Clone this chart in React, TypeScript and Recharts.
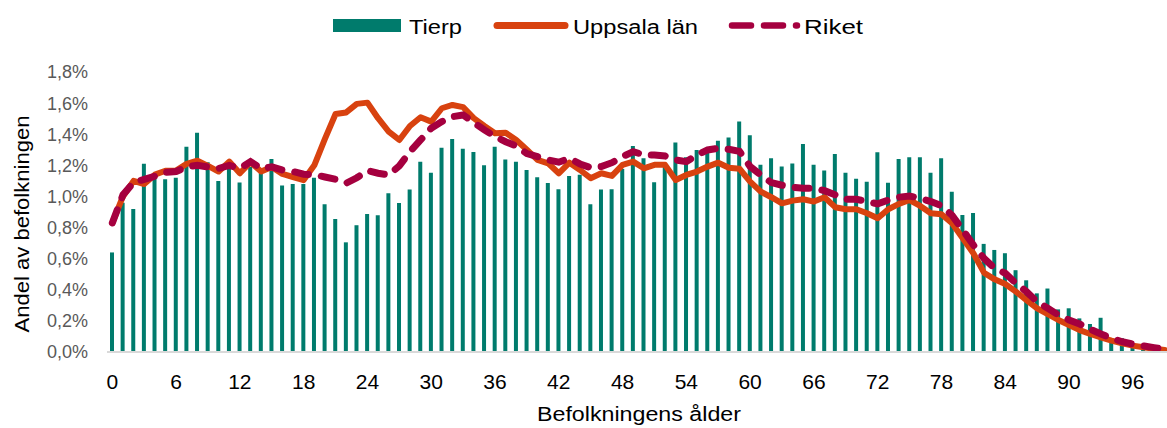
import React from 'react';
import { ComposedChart, Bar, Line, XAxis, YAxis, Legend, Label } from 'recharts';

const ages: number[] = Array.from({ length: 100 }, (_, i) => i);

const tierp: number[] = [
  0.64, 0.96, 0.92, 1.21, 1.13, 1.11, 1.12, 1.32, 1.41, 1.22,
  1.10, 1.19, 1.09, 1.19, 1.17, 1.24, 1.07, 1.08, 1.08, 1.12,
  0.95, 0.855, 0.705, 0.815, 0.887, 0.879, 1.02, 0.958, 1.045, 1.223,
  1.152, 1.313, 1.369, 1.306, 1.285, 1.20, 1.32, 1.238, 1.223, 1.17,
  1.123, 1.086, 1.047, 1.132, 1.14, 0.95, 1.045, 1.047, 1.177, 1.325,
  1.245, 1.091, 1.20, 1.346, 1.252, 1.299, 1.305, 1.358, 1.379, 1.482,
  1.394, 1.203, 1.245, 1.193, 1.212, 1.337, 1.203, 1.167, 1.273, 1.152,
  1.113, 1.095, 1.284, 1.088, 1.241, 1.252, 1.252, 1.152, 1.245, 1.03,
  0.88, 0.893, 0.695, 0.656, 0.635, 0.526, 0.461, 0.377, 0.408, 0.274,
  0.281, 0.216, 0.18, 0.22, 0.088, 0.089, 0.055, 0.032, 0.02, 0.01,
];

const uppsala: number[] = [
  0.83, 1.00, 1.10, 1.08, 1.14, 1.165, 1.166, 1.21, 1.23, 1.196,
  1.16, 1.224, 1.149, 1.22, 1.16, 1.19, 1.145, 1.125, 1.105, 1.20,
  1.37, 1.53, 1.54, 1.595, 1.603, 1.503, 1.417, 1.363, 1.453, 1.509,
  1.481, 1.567, 1.588, 1.574, 1.503, 1.453, 1.406, 1.41, 1.363, 1.30,
  1.235, 1.213, 1.149, 1.217, 1.17, 1.117, 1.149, 1.132, 1.203, 1.224,
  1.181, 1.203, 1.203, 1.106, 1.138, 1.16, 1.192, 1.217, 1.185, 1.178,
  1.095, 1.031, 0.995, 0.956, 0.973, 0.982, 0.967, 0.995, 0.931, 0.918,
  0.918, 0.892, 0.86, 0.918, 0.952, 0.977, 0.939, 0.892, 0.886, 0.828,
  0.731, 0.635, 0.51, 0.467, 0.437, 0.388, 0.334, 0.281, 0.244, 0.206,
  0.174, 0.141, 0.116, 0.094, 0.073, 0.056, 0.041, 0.03, 0.021, 0.013,
];

const riket: number[] = [
  0.83, 1.01, 1.09, 1.11, 1.13, 1.155, 1.16, 1.19, 1.20, 1.19,
  1.18, 1.20, 1.18, 1.224, 1.18, 1.19, 1.17, 1.16, 1.143, 1.14,
  1.125, 1.11, 1.085, 1.12, 1.166, 1.149, 1.138, 1.196, 1.288, 1.363,
  1.439, 1.481, 1.513, 1.524, 1.475, 1.428, 1.385, 1.352, 1.325, 1.275,
  1.256, 1.235, 1.22, 1.245, 1.209, 1.185, 1.192, 1.217, 1.256, 1.288,
  1.267, 1.267, 1.26, 1.235, 1.224, 1.267, 1.299, 1.31, 1.303, 1.29,
  1.192, 1.138, 1.089, 1.072, 1.059, 1.053, 1.053, 1.037, 1.01, 0.982,
  0.982, 0.967, 0.952, 0.977, 0.995, 1.003, 0.988, 0.967, 0.94, 0.878,
  0.785, 0.688, 0.602, 0.538, 0.506, 0.442, 0.388, 0.323, 0.281, 0.238,
  0.206, 0.18, 0.146, 0.116, 0.088, 0.066, 0.051, 0.039, 0.028, 0.017,
];

const yTicks: number[] = [0, 0.2, 0.4, 0.6, 0.8, 1.0, 1.2, 1.4, 1.6, 1.8];
const seriesNames = ['Tierp', 'Uppsala län', 'Riket'];

const data = ages.map((a, i) => ({
  age: a,
  tierp: tierp[i],
  uppsala: uppsala[i],
  riket: riket[i],
}));

const TEAL = '#007B6C';
const ORANGE = '#D8420F';
const MAROON = '#A5003F';
const FONT = '"Liberation Sans", Arial, sans-serif';

const fmt = (v: number) => v.toFixed(1).replace('.', ',') + '%';

const LegendContent = () => (
  <svg width={540} height={36} style={{ display: 'block' }}>
    <rect x={0} y={14} width={68} height={13} fill={TEAL} />
    <text x={76} y={28.7} fontSize={20} fontFamily={FONT} fill="#000" textLength={53} lengthAdjust="spacingAndGlyphs">{seriesNames[0]}</text>
    <line x1={164} y1={20.5} x2={232} y2={20.5} stroke={ORANGE} strokeWidth={7} strokeLinecap="round" />
    <text x={240} y={28.7} fontSize={20} fontFamily={FONT} fill="#000" textLength={125} lengthAdjust="spacingAndGlyphs">{seriesNames[1]}</text>
    <line x1={399} y1={20.5} x2={464} y2={20.5} stroke={MAROON} strokeWidth={6.5} strokeLinecap="round" strokeDasharray="19 13" />
    <text x={471} y={28.7} fontSize={20} fontFamily={FONT} fill="#000" textLength={59} lengthAdjust="spacingAndGlyphs">{seriesNames[2]}</text>
  </svg>
);

export default function App() {
  return (
    <div style={{ position: 'fixed', left: 0, top: 0, width: 1167, height: 428, overflow: 'hidden', background: '#fff' }}>
      <ComposedChart
        width={1185}
        height={428}
        data={data}
        margin={{ top: 36, right: 15, bottom: 0, left: 0 }}
        barCategoryGap={0}
      >
        <XAxis
          dataKey="age"
          interval={5}
          tickSize={0}
          tickMargin={22}
          height={76}
          axisLine={{ stroke: '#d9d9d9', strokeWidth: 2 }}
          tickLine={false}
          tick={{ fontSize: 21, fill: '#000', fontFamily: FONT }}
        >
          <Label
            content={() => (
              <text x={639} y={421} textAnchor="middle" fontSize={20} fontFamily={FONT} fill="#000" textLength={204} lengthAdjust="spacingAndGlyphs">
                Befolkningens ålder
              </text>
            )}
          />
        </XAxis>
        <YAxis
          width={107}
          domain={[0, 1.8]}
          ticks={yTicks}
          tickFormatter={fmt}
          axisLine={false}
          tickLine={false}
          tickSize={0}
          tickMargin={19}
          tick={{ fontSize: 18, fill: '#595959', fontFamily: FONT }}
        >
          <Label
            content={() => (
              <text
                x={22}
                y={224}
                transform="rotate(-90 22 224)"
                textAnchor="middle"
                dominantBaseline="central"
                fontSize={20}
                fontFamily={FONT}
                fill="#000"
                textLength={217}
                lengthAdjust="spacingAndGlyphs"
              >
                Andel av befolkningen
              </text>
            )}
          />
        </YAxis>
        <Legend
          verticalAlign="top"
          content={LegendContent}
          wrapperStyle={{ top: 5, left: 333, width: 540 }}
        />
        <Bar dataKey="tierp" name={seriesNames[0]} fill={TEAL} barSize={4} isAnimationActive={false} />
        <Line
          dataKey="uppsala"
          name={seriesNames[1]}
          type="linear"
          stroke={ORANGE}
          strokeWidth={6}
          strokeLinejoin="round"
          strokeLinecap="round"
          dot={false}
          activeDot={false}
          isAnimationActive={false}
        />
        <Line
          dataKey="riket"
          name={seriesNames[2]}
          type="linear"
          stroke={MAROON}
          strokeWidth={7}
          strokeLinecap="round"
          strokeDasharray="14 13"
          dot={false}
          activeDot={false}
          isAnimationActive={false}
        />
      </ComposedChart>
    </div>
  );
}
